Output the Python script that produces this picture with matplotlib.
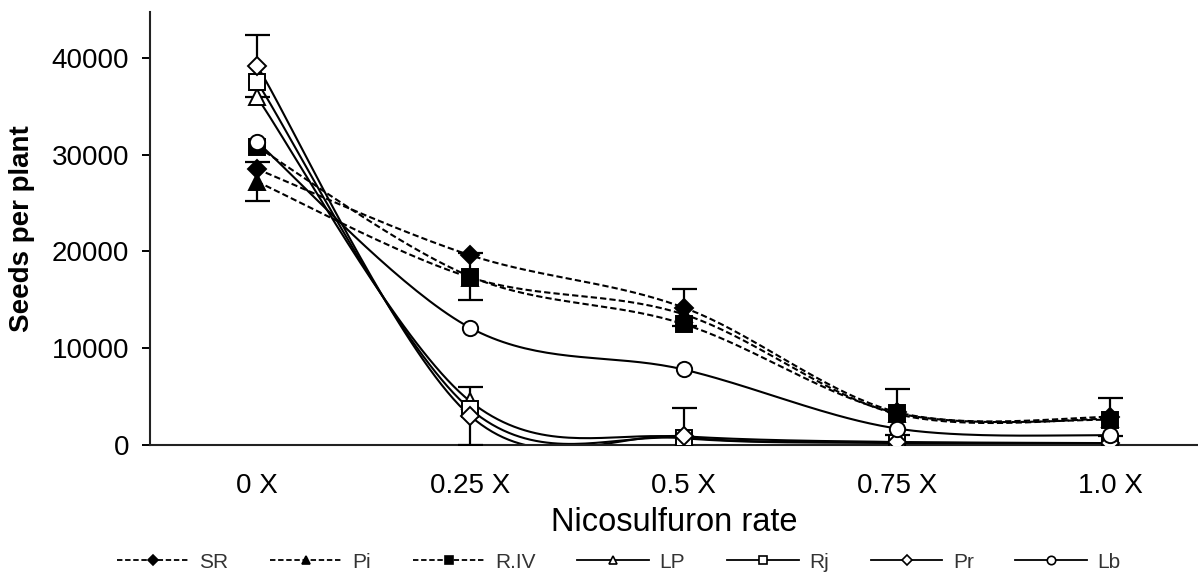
import matplotlib
matplotlib.use('Agg')
import matplotlib.pyplot as plt
from matplotlib.lines import Line2D
import numpy as np

plt.rcParams['font.family'] = ['Liberation Sans', 'DejaVu Sans']

rates = ['0 X', '0.25 X', '0.5 X', '0.75 X', '1.0 X']
names = ['SR', 'Pi', 'R.IV', 'LP', 'Rj', 'Pr', 'Lb']

sr = [28500, 19600, 14200, 3400, 2900]
pi = [27200, 17300, 13500, 3200, 2700]
riv = [30800, 17400, 12500, 3300, 2600]
lp = [35900, 4500, 800, 300, 200]
rj = [37500, 3700, 700, 200, 100]
pr = [39200, 3000, 900, 300, 200]
lb = [31300, 12100, 7800, 1700, 1000]

sr_err = [0, 0, 1900, 2400, 2000]
pi_err = [2000, 0, 0, 0, 0]
riv_err = [0, 2400, 0, 0, 0]
lp_err = [0, 0, 0, 0, 0]
rj_err = [0, 0, 3100, 0, 0]
pr_err = [3200, 3000, 0, 0, 0]
lb_err = [0, 0, 0, 0, 0]

series = [sr, pi, riv, lp, rj, pr, lb]
errors = [sr_err, pi_err, riv_err, lp_err, rj_err, pr_err, lb_err]
styles = [
    ('D', 'black', (0, (3, 1.5)), 9),
    ('^', 'black', (0, (3, 1.5)), 11),
    ('s', 'black', (0, (3, 1.5)), 11),
    ('^', 'white', '-', 11),
    ('s', 'white', '-', 11),
    ('D', 'white', '-', 9),
    ('o', 'white', '-', 11),
]


def smooth(xs, ys, n=40):
    # excel-like smoothed line (cubic bezier, catmull-rom control points)
    pts = np.column_stack([xs, ys]).astype(float)
    P = np.vstack([pts[0], pts, pts[-1]])
    t = np.linspace(0, 1, n)[:, None]
    out = []
    for i in range(1, len(P) - 2):
        p0, p1, p2, p3 = P[i - 1], P[i], P[i + 1], P[i + 2]
        b1 = p1 + (p2 - p0) / 6
        b2 = p2 - (p3 - p1) / 6
        out.append((1 - t)**3 * p1 + 3 * (1 - t)**2 * t * b1
                   + 3 * (1 - t) * t**2 * b2 + t**3 * p2)
    return np.vstack(out)


fig = plt.figure(figsize=(11.98, 5.85), dpi=100)
ax = fig.add_axes([150 / 1198, 140 / 585, 1 - 150 / 1198, 433 / 585])

x = np.arange(len(rates))
handles = []
for name, y, err, (mk, fc, ls, ms) in zip(names, series, errors, styles):
    curve = smooth(x, y)
    ax.plot(curve[:, 0], curve[:, 1], color='black', lw=1.5, linestyle=ls, zorder=2)
    e = np.array(err)
    m = e > 0
    if m.any():
        ax.errorbar(x[m], np.array(y)[m], yerr=e[m], fmt='none', ecolor='black',
                    elinewidth=1.6, capsize=9, capthick=1.6, zorder=3)
    ax.plot(x, y, linestyle='none', marker=mk, markersize=ms, markerfacecolor=fc,
            markeredgecolor='black', markeredgewidth=1.4, zorder=4)
    handles.append(Line2D([], [], color='black', lw=1.3, linestyle=ls, marker=mk,
                          markersize=ms * 0.55, markerfacecolor=fc,
                          markeredgecolor='black', markeredgewidth=1.2, label=name))

ax.set_xlim(-0.502, 4.412)
ax.set_ylim(0, 44730)
ax.set_xticks(x)
ax.set_xticklabels(rates)
ax.set_yticks([0, 10000, 20000, 30000, 40000])
ax.tick_params(axis='x', length=0, pad=20, labelsize=20)
ax.tick_params(axis='y', length=6, width=1.4, pad=9, labelsize=20)
for s in ['top', 'right']:
    ax.spines[s].set_visible(False)
for s in ['left', 'bottom']:
    ax.spines[s].set_linewidth(1.5)
    ax.spines[s].set_color('#222222')

ax.set_xlabel('Nicosulfuron rate', fontsize=23.5, labelpad=6)
ax.set_ylabel('Seeds per plant', fontsize=20, fontweight='bold', labelpad=12)

fig.legend(handles=handles, loc='center', bbox_to_anchor=(619 / 1198, 1 - 562 / 585),
           ncol=7, frameon=False, fontsize=15, handlelength=3.45, handletextpad=0.5,
           columnspacing=2.0, labelcolor='#333333')

fig.savefig('out.png', dpi=100)
